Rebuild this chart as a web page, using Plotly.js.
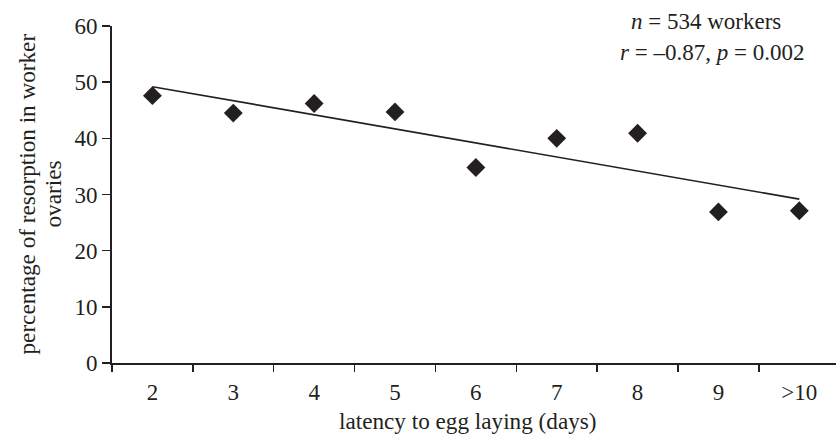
<!DOCTYPE html>
<html>
<head>
<meta charset="utf-8">
<script src="https://cdn.plot.ly/plotly-3.0.1.min.js"></script>
<style>html,body{margin:0;padding:0;background:#fff;}#chart{width:836px;height:439px;}</style>
</head>
<body>
<div id="chart"></div>
<script>
// Data
const categories = ["2", "3", "4", "5", "6", "7", "8", "9", ">10"];
const resorption = [47.6, 44.5, 46.2, 44.7, 34.8, 40.0, 40.9, 26.9, 27.1];
const yTicks = [0, 10, 20, 30, 40, 50, 60];
const statsLines = ["<i>n</i> = 534 workers", "<i>r</i> = –0.87, <i>p</i> = 0.002"];
const xTitle = "latency to egg laying (days)";
const yTitleLines = ["percentage of resorption in worker", "ovaries"];

// least-squares trend line computed from the data
const idx = categories.map((_, i) => i);
const mx = idx.reduce((a, b) => a + b, 0) / idx.length;
const my = resorption.reduce((a, b) => a + b, 0) / resorption.length;
let sxy = 0, sxx = 0;
idx.forEach(i => { sxy += (i - mx) * (resorption[i] - my); sxx += (i - mx) * (i - mx); });
const slope = sxy / sxx, icpt = my - slope * mx;
const trendX = [categories[0], categories[categories.length - 1]];
const trendY = [icpt + slope * 0, icpt + slope * (categories.length - 1)];

const ink = '#231f20';
const fam = '"Liberation Serif", "Times New Roman", serif';
const font = {family: fam, size: 23, color: ink};
const titleFont = {family: fam, size: 23.2, color: ink};

const data = [
  {type: 'scatter', mode: 'lines', x: trendX, y: trendY,
   line: {color: ink, width: 1.6}, hoverinfo: 'skip', showlegend: false},
  {type: 'scatter', mode: 'markers', x: categories, y: resorption,
   marker: {symbol: 'diamond', size: 14.5, color: ink}, showlegend: false}
];

const layout = {
  width: 836, height: 439,
  margin: {l: 112, r: 0, t: 26, b: 76},
  paper_bgcolor: '#fff', plot_bgcolor: '#fff',
  font: font,
  showlegend: false,
  xaxis: {
    type: 'category', categoryorder: 'array', categoryarray: categories,
    range: [-0.5, 8.454], tickson: 'boundaries',
    showgrid: false, zeroline: false,
    showline: true, linecolor: ink, linewidth: 2,
    ticks: 'outside', ticklen: 7, tickwidth: 1.5, tickcolor: ink,
    tickfont: font, ticklabelstandoff: 7,
    fixedrange: true
  },
  yaxis: {
    range: [0, 60], tickvals: yTicks, ticktext: yTicks.map(String),
    showgrid: false, zeroline: false,
    showline: true, linecolor: ink, linewidth: 2,
    ticks: 'outside', ticklen: 8, tickwidth: 1.5, tickcolor: ink,
    tickfont: font,
    fixedrange: true
  },
  annotations: [
    {xref: 'paper', yref: 'paper', x: 0.8204, y: 1.0119, xanchor: 'center', yanchor: 'middle',
     text: statsLines[0], showarrow: false, font: font},
    {xref: 'paper', yref: 'paper', x: 0.8287, y: 0.9228, xanchor: 'center', yanchor: 'middle',
     text: statsLines[1], showarrow: false, font: font},
    {xref: 'paper', yref: 'paper', x: 0.4924, y: -0.1721, xanchor: 'center', yanchor: 'middle',
     text: xTitle, showarrow: false, font: titleFont},
    {xref: 'paper', yref: 'paper', x: 0, xshift: -86, y: 0.5, xanchor: 'center', yanchor: 'middle',
     textangle: -90, text: yTitleLines[0], showarrow: false, font: titleFont},
    {xref: 'paper', yref: 'paper', x: 0, xshift: -60, y: 0.5, xanchor: 'center', yanchor: 'middle',
     textangle: -90, text: yTitleLines[1], showarrow: false, font: titleFont}
  ]
};

Plotly.newPlot('chart', data, layout, {displayModeBar: false, staticPlot: true});
</script>
</body>
</html>
